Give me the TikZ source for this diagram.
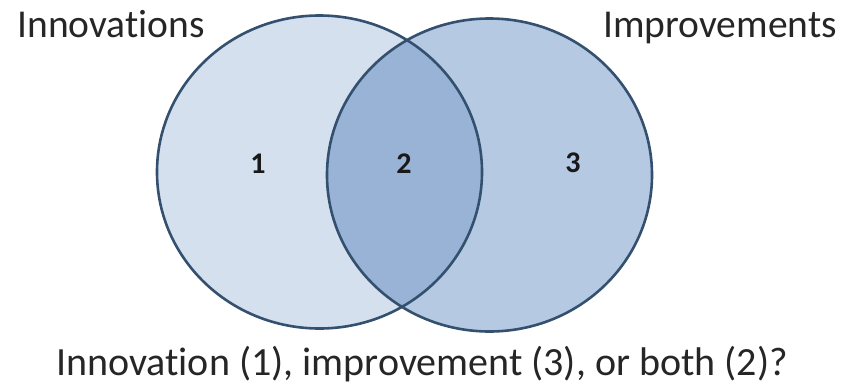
\documentclass[tikz,border=0pt]{standalone}
\usepackage{fontspec}
\setmainfont{Carlito}[Ligatures=NoCommon]
\definecolor{leftfill}{HTML}{D5E0EF}
\definecolor{rightfill}{HTML}{B5C9E3}
\definecolor{bothfill}{HTML}{98B3D6}
\definecolor{rimcol}{HTML}{34506F}
\begin{document}
\begin{tikzpicture}[x=1pt,y=-1pt,
  rim/.style={draw=rimcol,line width=2.6pt},
  setlabel/.style={anchor=base,inner sep=0pt,font=\fontsize{39.5}{47}\selectfont,text=black!85},
  numlabel/.style={anchor=center,inner sep=0pt,font=\fontsize{30}{36}\selectfont\bfseries,text=black!90},
  question/.style={anchor=base,inner sep=0pt,font=\fontsize{40}{48}\selectfont,text=black!85}]
\fill[white] (0,0) rectangle (854,389);
\useasboundingbox (0,0) rectangle (854,389);
% fills
\fill[leftfill] (319.5,172) ellipse [x radius=162.5, y radius=156.5];
\fill[rightfill] (489.5,175) ellipse [x radius=162.5, y radius=156.5];
\begin{scope}
  \clip (319.5,172) ellipse [x radius=162.5, y radius=156.5];
  \fill[bothfill] (489.5,175) ellipse [x radius=162.5, y radius=156.5];
\end{scope}
% outlines
\draw[rim] (319.5,172) ellipse [x radius=162.5, y radius=156.5];
\draw[rim] (489.5,175) ellipse [x radius=162.5, y radius=156.5];
% labels
\node[setlabel] (innov) at (111,37) {Innovations};
\node[setlabel] (improv) at (720,37) {Improvements};
\node[numlabel] (one) at (258,164) {1};
\node[numlabel] (two) at (404,164) {2};
\node[numlabel] (three) at (573,163) {3};
\node[question] (q) at (422,375) {Innovation (1), improvement (3), or both (2)?};
\end{tikzpicture}
\end{document}
